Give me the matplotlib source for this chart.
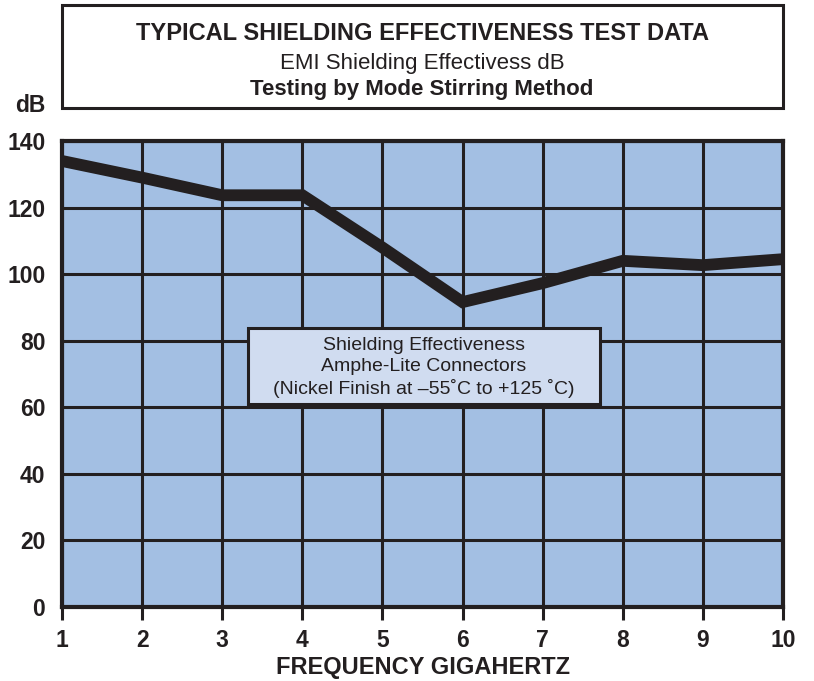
import matplotlib.pyplot as plt
from matplotlib.patches import Rectangle

plt.rcParams['font.family'] = ['Liberation Sans', 'DejaVu Sans']

freq = [1, 2, 3, 4, 5, 6, 7, 8, 9, 10]
db = [134, 129, 123.7, 123.7, 108, 91.6, 97.3, 104, 102.7, 104.5]
y_ticks = [0, 20, 40, 60, 80, 100, 120, 140]

ink = '#231f20'

fig = plt.figure(figsize=(8.14, 6.81), dpi=100)
ax = fig.add_axes([62 / 814, 74 / 681, 721 / 814, 466 / 681])
ax.set_facecolor('#a3bfe3')
ax.set_xlim(1, 10)
ax.set_ylim(0, 140)
ax.set_xticks(freq)
ax.set_yticks(y_ticks)
ax.grid(True, color=ink, linewidth=2.2)
ax.set_axisbelow(True)
for s in ax.spines.values():
    s.set_linewidth(3)
    s.set_color(ink)
ax.tick_params(axis='x', length=9.5, width=2.2, color=ink, pad=6, labelsize=16.5, labelcolor=ink)
ax.tick_params(axis='y', length=0, pad=12, labelsize=16.5, labelcolor=ink)
for lbl in ax.get_xticklabels() + ax.get_yticklabels():
    lbl.set_fontweight('bold')

ax.plot(freq, db, color=ink, linewidth=8.5, solid_joinstyle='miter', solid_capstyle='butt', zorder=3)

ax.set_xlabel('FREQUENCY GIGAHERTZ', fontsize=17, fontweight='bold', color=ink, labelpad=3)

# legend box
ax.add_patch(Rectangle((3.32, 61.0), 4.395, 22.8, facecolor='#d0dcf0', edgecolor=ink,
                       linewidth=2.2, zorder=5))
ax.text(5.52, 71.9, 'Shielding Effectiveness\nAmphe-Lite Connectors\n(Nickel Finish at \u201355\u02daC to +125 \u02daC)',
        ha='center', va='center', fontsize=14, color=ink, linespacing=1.3, zorder=6)

# title box
fig.patches.append(Rectangle((62 / 814, 573 / 681), 721 / 814, 103 / 681, transform=fig.transFigure,
                             facecolor='white', edgecolor=ink, linewidth=2.2))
fig.text(422 / 814, 647 / 681, 'TYPICAL SHIELDING EFFECTIVENESS TEST DATA', ha='center', va='center',
         fontsize=17, fontweight='bold', color=ink)
fig.text(422 / 814, 617 / 681, 'EMI Shielding Effectivess dB', ha='center', va='center',
         fontsize=16, color=ink)
fig.text(422 / 814, 591 / 681, 'Testing by Mode Stirring Method', ha='center', va='center',
         fontsize=16, fontweight='bold', color=ink)
fig.text(30 / 814, 575 / 681, 'dB', ha='center', va='center', fontsize=16.5, fontweight='bold', color=ink)

fig.savefig('out.png', dpi=100)
